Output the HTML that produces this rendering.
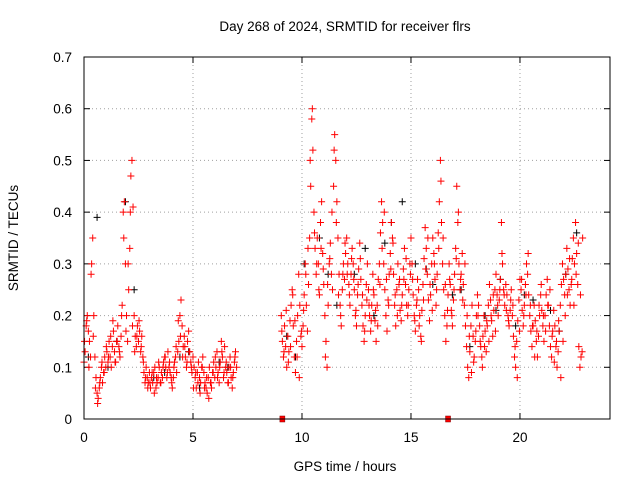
<!DOCTYPE html>
<html><head><meta charset="utf-8"><style>
html,body{margin:0;padding:0;background:#fff;}
svg{display:block;font-family:"Liberation Sans",sans-serif;}
</style></head><body>
<svg id="chart" width="640" height="480" viewBox="0 0 640 480" xmlns="http://www.w3.org/2000/svg">
<rect width="640" height="480" fill="#fff"/>
<text x="345" y="31" font-size="13.5" text-anchor="middle">Day 268 of 2024, SRMTID for receiver flrs</text>
<text x="345" y="471" font-size="13.5" text-anchor="middle">GPS time / hours</text>
<text transform="translate(18,238) rotate(-90)" font-size="13.5" text-anchor="middle">SRMTID / TECUs</text>
<g id="grid"></g>
<g id="ticks"></g>
<g id="black"></g>
<g id="red"></g>
<g id="marks"></g>
<rect x="84" y="57" width="526" height="362" fill="none" stroke="#000" stroke-width="1"/>
</svg>
<script>
const xTicks=[0,5,10,15,20];
const yTicks=[0,0.1,0.2,0.3,0.4,0.5,0.6,0.7];
const yTickLabels=["0","0.1","0.2","0.3","0.4","0.5","0.6","0.7"];
const seg1Start=0, seg2Start=9.05, stepH=0.05;
const seg1bStart=0.025, seg2bStart=9.075, stepB=0.1;
const redSeg1=[0.11,0.13,0.18,0.20,0.17,0.15,0.12,0.30,0.35,0.20,0.12,
0.08,0.05,0.04,0.06,0.08,0.10,0.07,0.09,0.12,0.10,
0.13,0.11,0.15,0.12,0.10,0.14,0.17,0.13,0.11,0.15,
0.18,0.14,0.12,0.16,0.22,0.40,0.42,0.30,0.20,0.15,
0.25,0.33,0.47,0.50,0.41,0.20,0.16,0.14,0.18,0.15,
0.17,0.13,0.16,0.12,0.09,0.07,0.10,0.08,0.07,0.09,
0.06,0.08,0.07,0.09,0.10,0.06,0.07,0.08,0.10,0.07,
0.09,0.08,0.11,0.12,0.10,0.08,0.13,0.10,0.09,0.08,
0.06,0.08,0.11,0.12,0.09,0.13,0.15,0.20,0.23,0.18,
0.14,0.16,0.12,0.10,0.15,0.17,0.13,0.11,0.09,0.12,
0.10,0.08,0.06,0.09,0.11,0.08,0.07,0.10,0.12,0.09,
0.07,0.06,0.05,0.08,0.10,0.07,0.06,0.09,0.11,0.08,
0.10,0.13,0.09,0.07,0.11,0.15,0.12,0.08,0.14,0.10,
0.09,0.07,0.10,0.12,0.08,0.06,0.09,0.11,0.13,0.10];
const redSeg2=[0.20,0.15,0.12,0.18,0.14,0.10,0.16,0.13,0.19,0.22,
0.25,0.18,0.12,0.09,0.15,0.20,0.28,0.22,0.16,0.14,
0.18,0.24,0.30,0.22,0.17,0.26,0.35,0.45,0.58,0.52,
0.40,0.33,0.28,0.35,0.30,0.24,0.38,0.42,0.32,0.26,
0.20,0.15,0.10,0.22,0.30,0.34,0.28,0.25,0.45,0.55,
0.50,0.42,0.35,0.28,0.22,0.18,0.25,0.30,0.27,0.32,
0.35,0.30,0.26,0.22,0.28,0.33,0.30,0.25,0.20,0.18,
0.24,0.29,0.34,0.27,0.22,0.18,0.15,0.20,0.26,0.30,
0.25,0.20,0.17,0.22,0.28,0.24,0.19,0.15,0.22,0.27,
0.30,0.36,0.42,0.38,0.30,0.25,0.20,0.17,0.23,0.28,
0.32,0.38,0.35,0.28,0.22,0.18,0.25,0.30,0.26,0.21,
0.19,0.24,0.29,0.33,0.26,0.22,0.20,0.25,0.30,0.35,
0.30,0.24,0.20,0.17,0.22,0.27,0.25,0.20,0.16,0.21,
0.26,0.31,0.37,0.33,0.28,0.23,0.19,0.24,0.30,0.35,
0.32,0.27,0.22,0.28,0.36,0.42,0.50,0.38,0.30,0.25,
0.20,0.15,0.18,0.24,0.30,0.26,0.21,0.18,0.23,0.28,
0.33,0.45,0.38,0.30,0.25,0.28,0.32,0.26,0.22,0.18,
0.14,0.10,0.08,0.13,0.18,0.22,0.16,0.12,0.15,0.20,
0.24,0.22,0.18,0.14,0.12,0.16,0.20,0.17,0.13,0.18,
0.22,0.26,0.23,0.19,0.16,0.21,0.25,0.28,0.24,0.20,
0.23,0.27,0.38,0.30,0.25,0.22,0.26,0.24,0.20,0.18,
0.21,0.25,0.20,0.16,0.12,0.10,0.15,0.19,0.23,0.27,
0.25,0.21,0.18,0.22,0.26,0.30,0.28,0.24,0.20,0.17,
0.14,0.18,0.22,0.19,0.15,0.12,0.16,0.20,0.24,0.21,
0.18,0.15,0.20,0.24,0.27,0.22,0.18,0.14,0.12,0.17,
0.21,0.18,0.14,0.10,0.13,0.17,0.22,0.26,0.30,0.27,
0.24,0.28,0.33,0.29,0.25,0.22,0.26,0.31,0.35,0.30,
0.38,0.32,0.26,0.14,0.10,0.12,0.13];
const redSeg1b=[0.15,0.19,0.10,0.28,0.16,0.06,0.03,0.07,0.11,0.09,
0.14,0.12,0.16,0.19,0.11,0.15,0.13,0.20,0.35,0.17,
0.30,0.40,0.18,0.13,0.16,0.19,0.14,0.11,0.08,0.06,
0.07,0.09,0.05,0.08,0.11,0.07,0.10,0.12,0.09,0.11,
0.07,0.10,0.14,0.19,0.16,0.12,0.14,0.11,0.13,0.10,
0.06,0.09,0.07,0.05,0.10,0.06,0.08,0.04,0.07,0.09,
0.12,0.08,0.10,0.13,0.09,0.11,0.07,0.10,0.08,0.12];
const redSeg2b=[0.17,0.13,0.21,0.11,0.14,0.24,0.19,0.12,0.08,0.17,
0.21,0.28,0.33,0.50,0.60,0.36,0.30,0.25,0.33,0.29,
0.12,0.26,0.31,0.40,0.52,0.38,0.24,0.20,0.28,0.34,
0.28,0.24,0.31,0.27,0.21,0.26,0.31,0.24,0.17,0.23,
0.22,0.19,0.25,0.21,0.18,0.26,0.33,0.40,0.27,0.22,
0.29,0.34,0.24,0.20,0.27,0.22,0.27,0.31,0.22,0.28,
0.27,0.19,0.23,0.18,0.15,0.23,0.29,0.35,0.26,0.21,
0.30,0.25,0.33,0.46,0.35,0.26,0.21,0.27,0.20,0.25,
0.31,0.40,0.27,0.23,0.30,0.20,0.16,0.09,0.11,0.17,
0.20,0.15,0.10,0.14,0.19,0.15,0.20,0.24,0.17,0.22,
0.25,0.32,0.24,0.21,0.19,0.23,0.22,0.14,0.08,0.17,
0.27,0.20,0.24,0.32,0.22,0.18,0.12,0.17,0.22,0.26,
0.20,0.17,0.22,0.25,0.16,0.11,0.15,0.19,0.08,0.15,
0.20,0.24,0.31,0.27,0.22,0.28,0.34,0.24,0.35];
const blackTimes=[0.2,0.6,1.1,1.9,2.3,3.2,4.4,5.3,6.2,9.3,10.1,10.8,11.6,12.4,13.3,13.8,14.6,15.2,16.0,16.9,17.7,18.4,19.1,19.8,20.6,21.4,22.1,22.6,1.5,3.7,4.8,6.6,9.7,11.2,12.9,14.1,15.7,17.3,18.9,20.2,21.8];
const blackValues=[0.12,0.39,0.10,0.42,0.25,0.08,0.12,0.06,0.11,0.16,0.30,0.35,0.22,0.28,0.20,0.34,0.42,0.30,0.26,0.24,0.14,0.20,0.27,0.18,0.23,0.21,0.28,0.36,0.15,0.09,0.13,0.10,0.12,0.28,0.33,0.38,0.29,0.25,0.21,0.24,0.17];
const gapTimes=[9.1,16.7];
const X0=84,X1=610,XMAX=24.13,Y0=419,Y1=57,YMAX=0.7;
const sx=t=>X0+(X1-X0)*t/XMAX;
const sy=v=>Y0-(Y0-Y1)*v/YMAX;
const NS="http://www.w3.org/2000/svg";
function mk(tag,attrs,parent){const e=document.createElementNS(NS,tag);for(const k in attrs)e.setAttribute(k,attrs[k]);parent.appendChild(e);return e;}
const grid=document.getElementById('grid'),ticks=document.getElementById('ticks');
xTicks.forEach(t=>{const x=sx(t);
 if(t>0){const g=mk('line',{x1:x,x2:x,y1:Y1,y2:Y0,stroke:'#a0a0a0','stroke-dasharray':'1,3'},grid);
 
 }
 mk('line',{x1:x,x2:x,y1:Y0,y2:Y0-6,stroke:'#000'},ticks);
 mk('line',{x1:x,x2:x,y1:Y1,y2:Y1+6,stroke:'#000'},ticks);
 const l=mk('text',{x:x,y:442,'font-size':13.5,'text-anchor':'middle'},ticks);l.textContent=String(t);
 
 
});
yTicks.forEach((v,i)=>{const y=sy(v);
 if(v>0&&v<0.7){const g=mk('line',{x1:X0,x2:X1,y1:y,y2:y,stroke:'#a0a0a0','stroke-dasharray':'1,3'},grid);
 
 }
 mk('line',{x1:X0,x2:X0+6,y1:y,y2:y,stroke:'#000'},ticks);
 mk('line',{x1:X1,x2:X1-6,y1:y,y2:y,stroke:'#000'},ticks);
 const l=mk('text',{x:72,y:y+5,'font-size':13.5,'text-anchor':'end'},ticks);l.textContent=yTickLabels[i];
 
 
});
function plus(x,y,col,parent,name){const p=mk('path',{d:`M${x-3.5},${y}h7M${x},${y-3.5}v7`,stroke:col,'stroke-width':1,fill:'none'},parent);
 
 }
const blackG=document.getElementById('black'),redG=document.getElementById('red');
blackTimes.forEach((t,i)=>plus(sx(t),sy(blackValues[i]),'#000',blackG,'black-point'));
redSeg1.forEach((v,i)=>plus(sx(seg1Start+i*stepH),sy(v),'#ff0000',redG,'red-point'));
redSeg2.forEach((v,i)=>plus(sx(seg2Start+i*stepH),sy(v),'#ff0000',redG,'red-point'));
redSeg1b.forEach((v,i)=>plus(sx(seg1bStart+i*stepB),sy(v),'#ff0000',redG,'red-point'));
redSeg2b.forEach((v,i)=>plus(sx(seg2bStart+i*stepB),sy(v),'#ff0000',redG,'red-point'));
const marks=document.getElementById('marks');
gapTimes.forEach(t=>{const r=mk('rect',{x:sx(t)-2.5,y:Y0-3,width:5,height:6,fill:'#ff0000',stroke:'#800000','stroke-width':0.5},marks);
 
 });
</script>
</body></html>
